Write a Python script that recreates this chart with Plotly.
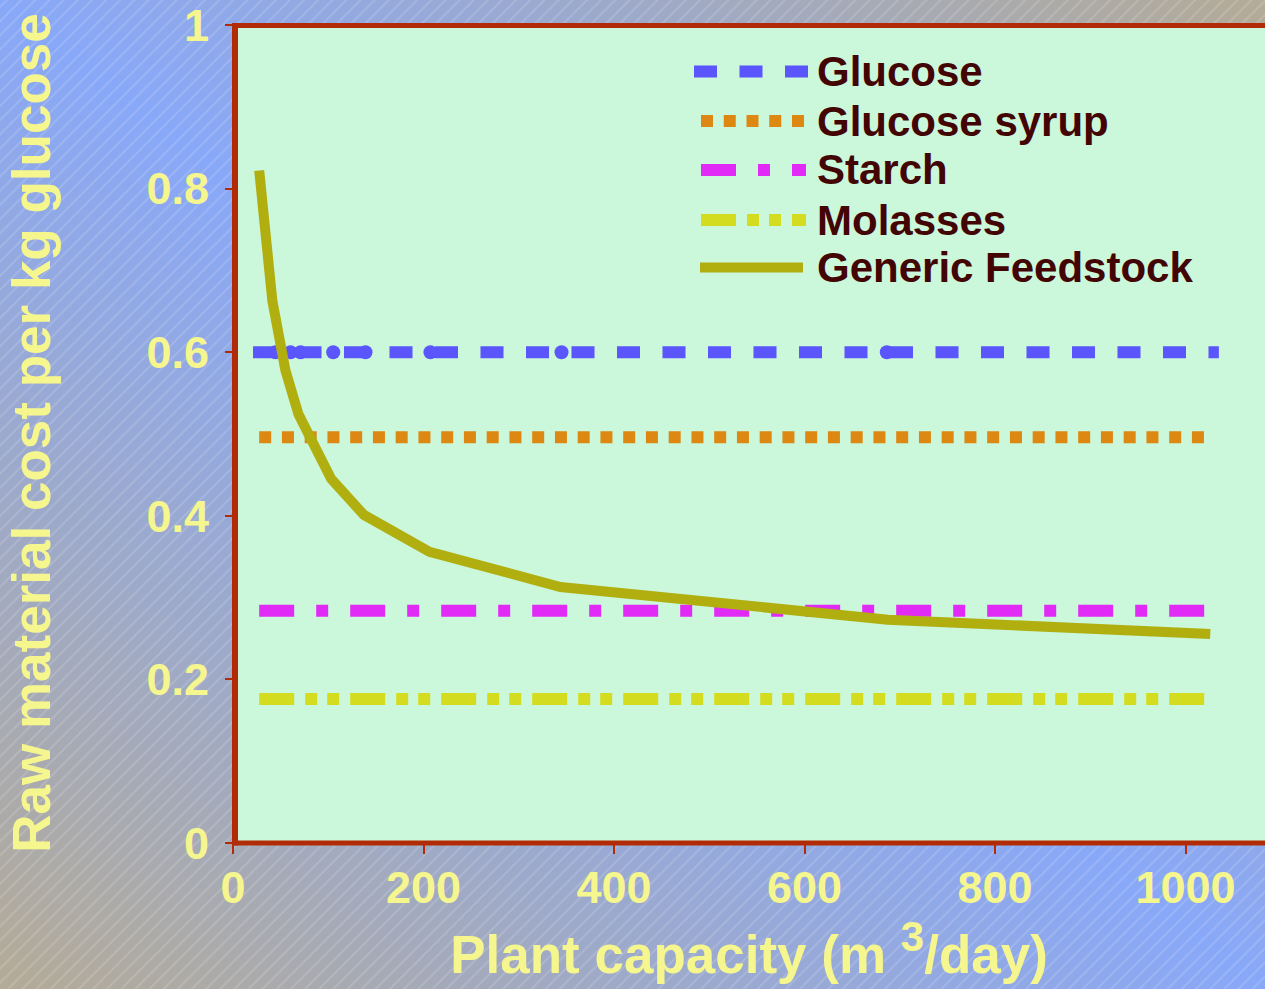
import base64
import plotly.graph_objects as go

# ---- data -------------------------------------------------------------
series_names = ["Glucose", "Glucose syrup", "Starch", "Molasses", "Generic Feedstock"]

capacity = [27.5, 41.3, 55.0, 68.8, 103.1, 137.5, 206.3, 343.8, 687.5, 1026.0]
generic_cost = [0.822, 0.663, 0.578, 0.524, 0.445, 0.401, 0.356, 0.313, 0.273, 0.2555]

glucose_capacity = [21.0, 44.6, 60.4, 70.9, 105.2, 139.1, 207.3, 344.9, 686.4, 1035.0]
glucose_cost = 0.6
syrup_cost = 0.496
starch_cost = 0.284
molasses_cost = 0.176

x_ticks = [0, 200, 400, 600, 800, 1000]
y_ticks = [0, 0.2, 0.4, 0.6, 0.8, 1]

# ---- styling ----------------------------------------------------------
W, H = 1265, 989
ML, MR, MT, MB = 233, 0, 23, 146
PW, PH = W - ML - MR, H - MT - MB
PX_PER_UNIT = 0.9525        # x: pixels per m3/day
PX_PER_COST = 818.0         # y: pixels per unit cost

FONT = "Liberation Sans, Arial, sans-serif"
YELLOW = "#f6f68e"
FRAME = "#b12c06"
TEXT_DARK = "#430404"
PLOT_BG = "#cbf7da"

colors = ["#5a55fd", "#dd8812", "#e22af6", "#d4dc20", "#b1ae10"]
dashes = ["23px,22.5px", "12px,10.75px", "35px,22px,12px,22px",
          "35px,11px,12px,10px,12px,11px", "solid"]
widths = [12, 12, 12, 12, 10]

# page background: diagonal two-tone gradient with fine hatching
svg = f'''<svg xmlns="http://www.w3.org/2000/svg" width="{W}" height="{H}">
<defs>
<linearGradient id="g" x1="0" y1="1" x2="1" y2="0">
<stop offset="0" stop-color="#b4ab97"/>
<stop offset="0.5" stop-color="#88a8f8"/>
<stop offset="1" stop-color="#b4ab97"/>
</linearGradient>
<pattern id="h" width="10" height="10" patternUnits="userSpaceOnUse" patternTransform="rotate(45)">
<line x1="5" y1="0" x2="5" y2="10" stroke="#ffffff" stroke-opacity="0.28" stroke-width="1"/>
</pattern>
</defs>
<rect width="{W}" height="{H}" fill="url(#g)"/>
<rect width="{W}" height="{H}" fill="url(#h)"/>
</svg>'''
bg_uri = "data:image/svg+xml;base64," + base64.b64encode(svg.encode()).decode()

fig = go.Figure()

levels = [None, syrup_cost, starch_cost, molasses_cost]

# Glucose: dashed with circle markers at its points
marker_sizes = [0] + [14] * (len(glucose_capacity) - 2) + [0]
fig.add_trace(go.Scatter(
    x=glucose_capacity, y=[glucose_cost] * len(glucose_capacity),
    mode="lines+markers", name=series_names[0],
    line=dict(color=colors[0], width=widths[0], dash=dashes[0]),
    marker=dict(color=colors[0], size=marker_sizes, opacity=1, line=dict(width=0)),
    showlegend=False, hoverinfo="skip"))

for i in (1, 2, 3):
    fig.add_trace(go.Scatter(
        x=capacity, y=[levels[i]] * len(capacity), mode="lines",
        name=series_names[i],
        line=dict(color=colors[i], width=widths[i], dash=dashes[i]),
        showlegend=False, hoverinfo="skip"))

fig.add_trace(go.Scatter(
    x=capacity, y=generic_cost, mode="lines", name=series_names[4],
    line=dict(color=colors[4], width=widths[4], dash=dashes[4]),
    showlegend=False, hoverinfo="skip"))


def px_x(p):
    return (p - ML) / PW


def px_y(p):
    return 1 - (p - MT) / PH


shapes = []
# plot-area fill (sits above the page background image, below the traces)
shapes.append(dict(type="rect", xref="paper", yref="paper", layer="below",
                   x0=0, x1=1, y0=0, y1=1, fillcolor=PLOT_BG, line=dict(width=0)))
# chart frame: left, top and bottom rules
top_px = 25.5
shapes.append(dict(type="line", xref="paper", yref="paper", layer="above",
                   x0=px_x(235), x1=px_x(235), y0=px_y(23), y1=px_y(845.5),
                   line=dict(color=FRAME, width=6)))
shapes.append(dict(type="line", xref="paper", yref="paper", layer="above",
                   x0=px_x(232), x1=1.01, y0=px_y(top_px), y1=px_y(top_px),
                   line=dict(color=FRAME, width=5)))
shapes.append(dict(type="line", xref="paper", yref="paper", layer="above",
                   x0=px_x(232), x1=1.01, y0=0, y1=0,
                   line=dict(color=FRAME, width=5)))

# key in the upper right of the plot area
row_y = [71.5, 121, 170, 220, 267.5]
sample_x = [(694, 808), (701, 806), (701, 806), (701, 806), (700, 803)]
annotations = []
for i, name in enumerate(series_names):
    x0, x1 = sample_x[i]
    shapes.append(dict(type="line", xref="paper", yref="paper", layer="above",
                       x0=px_x(x0), x1=px_x(x1), y0=px_y(row_y[i]), y1=px_y(row_y[i]),
                       line=dict(color=colors[i], width=widths[i], dash=dashes[i])))
    annotations.append(dict(xref="paper", yref="paper", x=px_x(815), y=px_y(row_y[i]),
                            xanchor="left", yanchor="middle", text=name, showarrow=False,
                            font=dict(family=FONT, size=42, color=TEXT_DARK, weight="bold")))

fig.update_layout(
    width=W, height=H,
    margin=dict(l=ML, r=MR, t=MT, b=MB, pad=0),
    paper_bgcolor="#9fa8c8",
    plot_bgcolor=PLOT_BG,
    showlegend=False,
    shapes=shapes,
    annotations=annotations,
    images=[dict(source=bg_uri, xref="paper", yref="paper",
                 x=-ML / PW, y=1 + MT / PH, sizex=W / PW, sizey=H / PH,
                 xanchor="left", yanchor="top", sizing="stretch", layer="below")],
    xaxis=dict(
        range=[0, PW / PX_PER_UNIT], tickvals=x_ticks,
        ticks="outside", ticklen=10, tickwidth=2, tickcolor=FRAME,
        showgrid=False, zeroline=False, showline=False,
        ticklabelstandoff=-5, ticklabeloverflow="allow",
        tickfont=dict(family=FONT, size=45, color=YELLOW, weight="bold"),
        title=dict(text="Plant capacity (m <sup><span style='font-size:42px'>3</span></sup>/day)",
                   standoff=14,
                   font=dict(family=FONT, size=53, color=YELLOW, weight="bold")),
    ),
    yaxis=dict(
        range=[0, PH / PX_PER_COST], tickvals=y_ticks,
        ticks="outside", ticklen=7, tickwidth=2, tickcolor=FRAME,
        showgrid=False, zeroline=False, showline=False,
        ticklabelstandoff=7, ticklabeloverflow="allow",
        tickfont=dict(family=FONT, size=45, color=YELLOW, weight="bold"),
        title=dict(text="Raw material cost per kg glucose", standoff=78,
                   font=dict(family=FONT, size=53, color=YELLOW, weight="bold")),
    ),
)

fig.write_html("out.html")
